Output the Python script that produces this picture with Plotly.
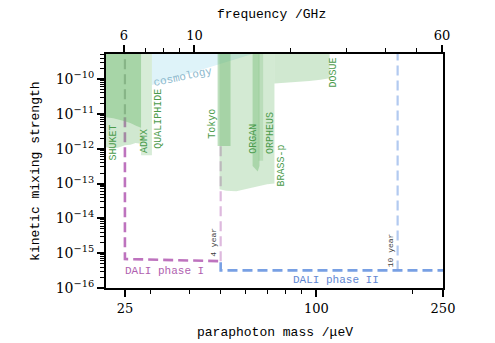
import numpy as np
import plotly.graph_objects as go

# ---------------- data ----------------
UEV_PER_GHZ = 4.135667          # photon energy per GHz in micro-eV
EPS_TOP = 1e-9                  # fills extend beyond the top of the plot

# cosmology bound (lower edge of excluded region)
cosmo_mass = [30.4, 66.0]
cosmo_eps = [6.8e-11, 6.0e-10]

# experimental exclusions: mass (ueV) and lower edge of excluded region
dark_mass = [21.8, 23.0, 24.5, 26.0, 27.2, 28.1]
dark_eps = [8.0e-12, 7.5e-12, 6.5e-12, 5.5e-12, 4.5e-12, 4.0e-12]

shuket_mass = [21.8, 23.0, 24.0, 25.0, 26.0, 27.0, 28.1]
shuket_eps = [1.1e-12, 1.0e-12, 1.1e-12, 1.25e-12, 1.3e-12, 1.45e-12, 1.4e-12]

admx_mass = [28.1, 30.4]
admx_eps = [6.5e-13, 6.5e-13]

tokyo_mass = [48.9, 53.7]
tokyo_eps = [1.2e-12, 1.2e-12]

brass_mass = [49.6, 52.0, 56.0, 60.0, 65.0, 70.0, 73.8]
brass_eps = [6.8e-14, 6.2e-14, 6.0e-14, 7.0e-14, 8.0e-14, 9.5e-14, 1.0e-13]

organ_mass = [63.0, 65.4, 66.2]
organ_eps = [3.2e-13, 2.2e-13, 3.2e-13]

orpheus_mass = [65.8, 68.0]
orpheus_eps = [4.5e-13, 4.5e-13]

dosue_mass = [73.8, 80.0, 88.0, 95.0, 103.0, 110.0]
dosue_eps = [7.5e-11, 7.8e-11, 8.2e-11, 8.8e-11, 9.5e-11, 1.05e-10]

# DALI projections
dali1_mass = [25.0, 25.0, 50.0]
dali1_eps = [8.0e-12, 6.8e-16, 5.9e-16]
dali1_ext_mass = [25.0, 25.0]
dali1_ext_eps = [EPS_TOP, 8.0e-12]
dali1_4yr_mass = [50.0, 50.0]
dali1_4yr_eps = [5.9e-16, 1.2e-12]

dali2_mass = [50.0, 50.0, 250.0]
dali2_eps = [5.5e-16, 3.2e-16, 3.2e-16]
dali2_10yr_mass = [180.0, 180.0]
dali2_10yr_eps = [3.2e-16, EPS_TOP]

x_ticks = [25, 100, 250]
x_minor = [30, 40, 50, 60, 70, 80, 90, 200]
f_ticks = [6, 10, 60]
f_minor = [7, 8, 9, 20, 30, 40, 50]
y_exps = [-16, -15, -14, -13, -12, -11, -10]

# ---------------- figure ----------------
MONO = "Liberation Mono"
SERIF = "DejaVu Serif"
GREEN_TXT = "rgb(75,155,75)"
PINK = "rgb(190,115,190)"
BLUE = "rgb(120,160,228)"

fig = go.Figure()


def region(mass, eps, color, alpha):
    xs = list(mass) + list(mass)[::-1]
    ys = list(eps) + [EPS_TOP] * len(mass)
    fig.add_trace(go.Scatter(
        x=xs, y=ys, fill="toself", mode="lines", line=dict(width=0),
        fillcolor=f"rgba({color},{alpha})", hoverinfo="skip", showlegend=False))


# cosmology (under everything)
cx = cosmo_mass + cosmo_mass[::-1]
cy = cosmo_eps + [EPS_TOP, EPS_TOP]
fig.add_trace(go.Scatter(x=cx, y=cy, fill="toself", mode="lines", line=dict(width=0),
                         fillcolor="rgb(222,243,249)", hoverinfo="skip", showlegend=False))


def dline(mass, eps, color, width=2.6):
    fig.add_trace(go.Scatter(x=mass, y=eps, mode="lines",
                             line=dict(color=color, width=width, dash="10px,5px"),
                             hoverinfo="skip", showlegend=False))


dline(dali1_ext_mass, dali1_ext_eps, "rgb(175,175,175)", 2.2)
dline(dali1_4yr_mass, dali1_4yr_eps, "rgb(222,185,222)", 2.2)
dline(dali2_10yr_mass, dali2_10yr_eps, "rgb(178,202,240)", 2.2)
dline(dali1_mass, dali1_eps, PINK)
dline(dali2_mass, dali2_eps, BLUE)

G = "110,185,110"
region(shuket_mass, shuket_eps, G, 0.32)
region(dark_mass, dark_eps, G, 0.42)
region(admx_mass, admx_eps, G, 0.28)
region(brass_mass, brass_eps, G, 0.30)
region(tokyo_mass, tokyo_eps, G, 0.45)
region(organ_mass, organ_eps, G, 0.40)
region(orpheus_mass, orpheus_eps, G, 0.25)
region(dosue_mass, dosue_eps, G, 0.32)

# invisible trace for the frequency axis
fig.add_trace(go.Scatter(x=[21.8 / UEV_PER_GHZ, 250 / UEV_PER_GHZ], y=[1e-16, 1e-16],
                         xaxis="x2", mode="markers", marker=dict(opacity=0),
                         hoverinfo="skip", showlegend=False))


def lab(text, m, le, color=GREEN_TXT, size=10, angle=-90):
    fig.add_annotation(x=np.log10(m), y=le, text=text, showarrow=False,
                       textangle=angle, font=dict(family=MONO, size=size, color=color))


lab("SHUKET", 23.0, -11.81)
lab("ADMX", 28.7, -11.78)
lab("QUALIPHIDE", 31.9, -11.15)
lab("Tokyo", 47.2, -11.29)
lab("ORGAN", 63.6, -11.72)
lab("ORPHEUS", 71.5, -11.55)
lab("BRASS-p", 77.6, -12.47)
lab("DOSUE", 113, -9.80)
lab("cosmology", 38.0, -9.94, color="rgb(140,185,205)", size=11, angle=-12)
lab("DALI phase I", 33.4, -15.52, color="rgb(175,95,175)", size=11, angle=0)
lab("DALI phase II", 115.5, -15.78, color="rgb(95,135,210)", size=11, angle=0)
lab("4 year", 47.2, -14.68, color="rgb(60,60,60)", size=8)
lab("10 year", 170.6, -14.91, color="rgb(60,60,60)", size=8)

# axis titles as paper annotations (fixed placement)
TITLE_FONT = dict(family=MONO, size=13, color="black")
fig.add_annotation(xref="paper", yref="paper", x=0.5, y=-0.192, text="paraphoton mass /μeV",
                   showarrow=False, font=TITLE_FONT, xanchor="center", yanchor="middle")
fig.add_annotation(xref="paper", yref="paper", x=0.49, y=1.167, text="frequency /GHz",
                   showarrow=False, font=TITLE_FONT, xanchor="center", yanchor="middle")
fig.add_annotation(xref="paper", yref="paper", x=-0.211, y=0.5, text="kinetic mixing strength",
                   showarrow=False, font=TITLE_FONT, textangle=-90,
                   xanchor="center", yanchor="middle")

axis_common = dict(showline=True, linecolor="black", linewidth=2, ticks="outside",
                   tickcolor="black", tickwidth=1.5, ticklen=7, showgrid=False,
                   zeroline=False, automargin=False)

fig.update_layout(
    width=495, height=343,
    margin=dict(l=106, r=52, t=54, b=55),
    paper_bgcolor="white", plot_bgcolor="white",
    xaxis=dict(type="log", range=[np.log10(21.8), np.log10(250)],
               tickmode="array", tickvals=x_ticks, ticktext=[str(v) for v in x_ticks],
               tickfont=dict(family=SERIF, size=13, color="black"),
               minor=dict(tickmode="array", tickvals=x_minor, ticks="outside",
                          ticklen=4, tickcolor="black", tickwidth=1),
               mirror=False, **axis_common),
    xaxis2=dict(type="log", overlaying="x", side="top", anchor="y",
                range=[np.log10(21.8 / UEV_PER_GHZ), np.log10(250 / UEV_PER_GHZ)],
                tickmode="array", tickvals=f_ticks, ticktext=[str(v) for v in f_ticks],
                tickfont=dict(family=SERIF, size=13, color="black"),
                minor=dict(tickmode="array", tickvals=f_minor, ticks="outside",
                           ticklen=4, tickcolor="black", tickwidth=1),
                **axis_common),
    yaxis=dict(type="log", range=[-16, -9.28],
               tickmode="array", tickvals=[10.0 ** e for e in y_exps],
               ticktext=[f"10<sup>−{-e}</sup>" for e in y_exps],
               tickfont=dict(family=SERIF, size=14, color="black"),
               minor=dict(tickmode="array",
                          tickvals=[k * 10.0 ** e for e in range(-16, -9) for k in range(2, 10)],
                          ticks="outside", ticklen=4, tickcolor="black", tickwidth=1),
               mirror=True, **axis_common),
)

fig.write_html("out.html")
